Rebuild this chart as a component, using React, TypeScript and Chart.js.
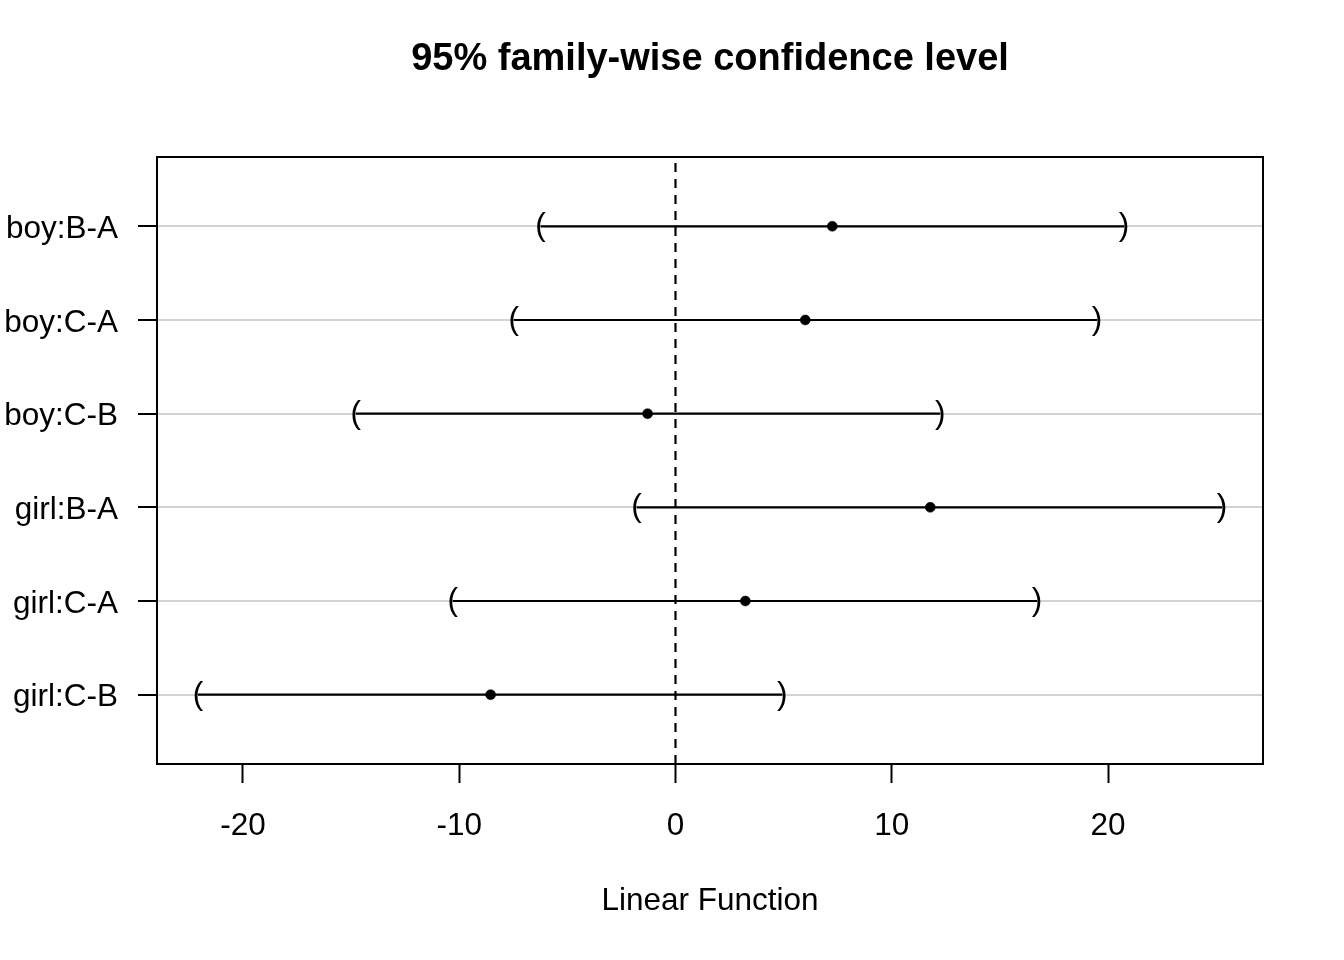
import React, { useEffect, useRef } from "react";
import { Chart, registerables } from "chart.js";

Chart.register(...registerables);

const categories = ["boy:B-A", "boy:C-A", "boy:C-B", "girl:B-A", "girl:C-A", "girl:C-B"];
const estimates = [7.25, 6.0, -1.29, 11.78, 3.23, -8.55];
const lowers = [-6.24, -7.48, -14.78, -1.8, -10.3, -22.08];
const uppers = [20.74, 19.49, 12.24, 25.27, 16.72, 4.94];
const xTicks = [-20, -10, 0, 10, 20];

const FONT = "'Liberation Sans', Arial, Helvetica, sans-serif";

export default function App() {
  const ref = useRef<HTMLCanvasElement | null>(null);

  useEffect(() => {
    document.body.style.margin = "0";
    const canvas = ref.current;
    if (!canvas) return;
    const n = categories.length;
    const rowY = (i: number) => n - i;

    const lo = Math.min(...lowers);
    const hi = Math.max(...uppers);
    const xPad = 0.04 * (hi - lo);
    const yLo = 0.5;
    const yHi = n + 0.5;
    const yPad = 0.04 * (yHi - yLo);

    const intervalSets = categories.map((c, i) => ({
      label: c,
      data: [
        { x: lowers[i], y: rowY(i) },
        { x: uppers[i], y: rowY(i) },
      ],
      showLine: true,
      borderColor: "#000",
      borderWidth: 2.2,
      pointRadius: 0,
      pointHoverRadius: 0,
    }));

    const estSet = {
      label: "Estimate",
      data: categories.map((c, i) => ({ x: estimates[i], y: rowY(i) })),
      showLine: false,
      backgroundColor: "#000",
      borderColor: "#000",
      borderWidth: 0.5,
      pointRadius: 5,
      pointHoverRadius: 5,
    };

    const zeroLine = {
      id: "zeroLine",
      beforeDatasetsDraw(chart: any) {
        const { ctx, chartArea, scales } = chart;
        const x = scales.x.getPixelForValue(0);
        ctx.save();
        ctx.strokeStyle = "#000";
        ctx.lineWidth = 2.2;
        ctx.setLineDash([9, 7]);
        ctx.beginPath();
        ctx.moveTo(x, chartArea.bottom);
        ctx.lineTo(x, chartArea.top);
        ctx.stroke();
        ctx.restore();
      },
    };

    const parens = {
      id: "parens",
      afterDatasetsDraw(chart: any) {
        const { ctx, scales } = chart;
        ctx.save();
        ctx.fillStyle = "#000";
        ctx.font = `31.5px ${FONT}`;
        ctx.textAlign = "center";
        ctx.textBaseline = "alphabetic";
        categories.forEach((c, i) => {
          const y = scales.y.getPixelForValue(rowY(i));
          ctx.fillText("(", scales.x.getPixelForValue(lowers[i]), y + 9);
          ctx.fillText(")", scales.x.getPixelForValue(uppers[i]), y + 9);
        });
        ctx.restore();
      },
    };

    const box = {
      id: "box",
      afterDraw(chart: any) {
        const { ctx, chartArea } = chart;
        ctx.save();
        ctx.strokeStyle = "#000";
        ctx.lineWidth = 2;
        ctx.strokeRect(
          chartArea.left,
          chartArea.top,
          chartArea.right - chartArea.left,
          chartArea.bottom - chartArea.top
        );
        ctx.restore();
      },
    };

    const chart = new Chart(canvas, {
      type: "scatter",
      data: { datasets: [...intervalSets, estSet] as any },
      options: {
        animation: false,
        responsive: true,
        maintainAspectRatio: false,
        events: [],
        layout: { padding: { left: 0, right: 81, top: 0, bottom: 0 } },
        plugins: {
          legend: { display: false },
          tooltip: { enabled: false },
          title: {
            display: true,
            text: "95% family-wise confidence level",
            color: "#000",
            fullSize: false,
            font: { family: FONT, size: 38, weight: "bold", lineHeight: 1.2 },
            padding: { top: 37.2, bottom: 74.2 },
          },
        },
        scales: {
          x: {
            type: "linear",
            min: lo - xPad,
            max: hi + xPad,
            afterFit: (s: any) => {
              s.height = 196;
            },
            afterBuildTicks: (s: any) => {
              s.ticks = xTicks.map((v) => ({ value: v }));
            },
            grid: {
              drawOnChartArea: false,
              drawTicks: true,
              tickLength: 19,
              tickColor: "#000",
              tickWidth: 2,
            },
            border: { display: false },
            ticks: {
              autoSkip: false,
              maxRotation: 0,
              padding: 24,
              color: "#000",
              font: { family: FONT, size: 31.5 },
              callback: (v: any) => String(v),
            },
            title: {
              display: true,
              text: "Linear Function",
              color: "#000",
              font: { family: FONT, size: 31.5, lineHeight: 1.2 },
              padding: { top: 0, bottom: 39.4 },
            },
          },
          y: {
            type: "linear",
            min: yLo - yPad,
            max: yHi + yPad,
            afterFit: (s: any) => {
              s.width = 157;
            },
            afterBuildTicks: (s: any) => {
              s.ticks = categories.map((c, i) => ({ value: rowY(i) }));
            },
            grid: {
              drawOnChartArea: true,
              color: "#d3d3d3",
              lineWidth: 2,
              drawTicks: true,
              tickLength: 19,
              tickColor: "#000",
              tickWidth: 2,
            },
            border: { display: false },
            ticks: {
              autoSkip: false,
              padding: 20,
              labelOffset: 3,
              color: "#000",
              font: { family: FONT, size: 31.5 },
              callback: (v: any) => categories[n - Number(v)] ?? "",
            },
          },
        },
      },
      plugins: [zeroLine, parens, box],
    });

    return () => chart.destroy();
  }, []);

  return (
    <div style={{ width: 1344, height: 960, position: "relative", background: "#fff" }}>
      <canvas ref={ref} />
    </div>
  );
}
